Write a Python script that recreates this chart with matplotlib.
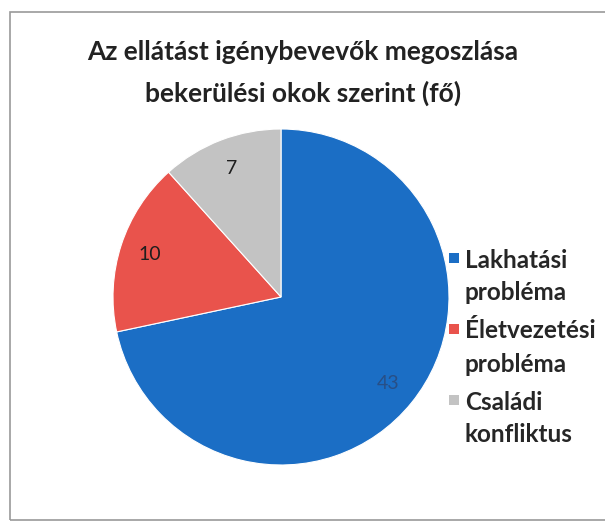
import numpy as np
import matplotlib
matplotlib.use("Agg")
import matplotlib.pyplot as plt
from matplotlib.patches import Rectangle

# Data
categories = ["Lakhatási\nprobléma", "Életvezetési\nprobléma", "Családi\nkonfliktus"]
values = [43, 10, 7]
colors = ["#1b6ec5", "#e9534c", "#c3c3c3"]

plt.rcParams["font.family"] = ["Lato", "DejaVu Sans"]

fig = plt.figure(figsize=(6.05, 5.26), dpi=100)
W, H = 605, 526

# outer frame
fig.patches.append(Rectangle((10 / W, 6 / H), 1.0, (520 - 12) / H, transform=fig.transFigure,
                             fill=False, edgecolor="#9a9a9a", linewidth=1.2))

cx, cy, r = 281, 297, 168
ax = fig.add_axes([(cx - r) / W, (H - cy - r) / H, 2 * r / W, 2 * r / H])
wedges, _ = ax.pie(values, colors=colors, startangle=90, counterclock=False,
                   wedgeprops=dict(edgecolor="white", linewidth=0.8))
ax.set_xlim(-1, 1)
ax.set_ylim(-1, 1)
ax.set_aspect("equal")
ax.axis("off")

text_colors = ["#284f86", "#1e1e1e", "#1e1e1e"]
for w, v, tc in zip(wedges, values, text_colors):
    mid = np.deg2rad((w.theta1 + w.theta2) / 2)
    ax.text(0.82 * np.cos(mid), 0.82 * np.sin(mid), str(v), ha="center", va="center",
            fontsize=14, color=tc)

fig.text(303 / W, 1 - 73 / H, "Az ellátást igénybevevők megoszlása\nbekerülési okok szerint (fő)",
         ha="center", va="center", fontsize=19, fontweight="bold", color="#222222",
         linespacing=1.75)

# legend: square aligned with the first line of each label
y0, line_gap, row_step = 258, 33, 71
for i, (cat, col) in enumerate(zip(categories, colors)):
    y = y0 + i * row_step
    fig.patches.append(Rectangle((449 / W, 1 - (y + 5) / H), 10 / W, 10 / H,
                                 transform=fig.transFigure, facecolor=col, edgecolor="none"))
    for j, line in enumerate(cat.split("\n")):
        fig.text(465 / W, 1 - (y + j * line_gap) / H, line, ha="left", va="center_baseline",
                 fontsize=17.5, fontweight="bold", color="#262626")

fig.savefig("out.png", dpi=100, facecolor="white")
